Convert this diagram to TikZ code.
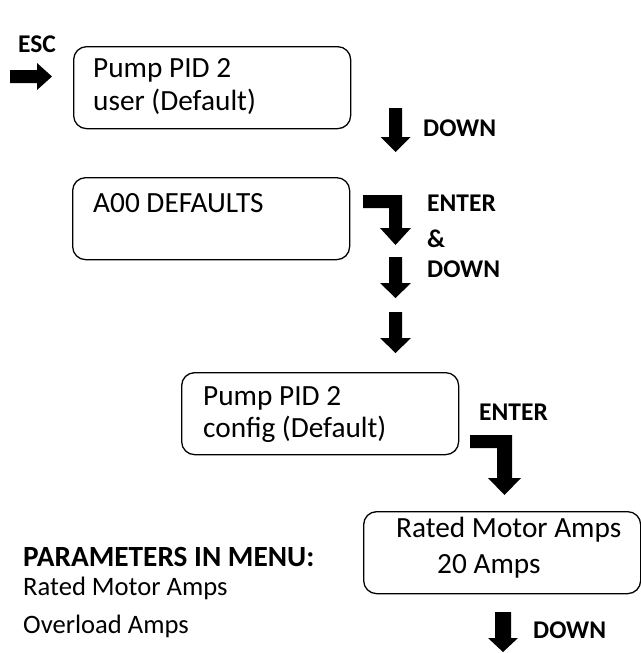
\documentclass[tikz,border=0pt]{standalone}
\usepackage{fontspec}
\setmainfont{Carlito}
\newcommand\myDownArrow[6]{\fill[black] ({#1-#4},#2) -- ({#1+#4},#2) -- ({#1+#4},{#3-#6}) -- ({#1+#5},{#3-#6}) -- (#1,#3) -- ({#1-#5},{#3-#6}) -- ({#1-#4},{#3-#6}) -- cycle;}
\tikzset{
  box/.style={draw, rounded corners=13pt, line width=1.3pt, minimum width=277pt, minimum height=82pt, inner sep=0pt, anchor=north west},
  boxtxt/.style={anchor=base west, inner sep=0pt, font=\fontsize{29.3}{34}\selectfont},
  listtxt/.style={anchor=base west, inner sep=0pt, font=\fontsize{26.6}{31}\selectfont},
  lbl/.style={anchor=base west, inner sep=0pt, font=\bfseries\fontsize{25.5}{30}\selectfont},
  hdr/.style={anchor=base west, inner sep=0pt, font=\bfseries\fontsize{29.3}{34}\selectfont},
}
\begin{document}
\begin{tikzpicture}[x=1pt, y=-1pt]
\useasboundingbox (0,0) rectangle (640,653);
% boxes
\node[box] (b1) at (73,46) {};
\node[box] (b2) at (72,177) {};
\node[box] (b3) at (181,372) {};
\node[box] (b4) at (363,511) {};
% box texts
\node[boxtxt] (t1a) at (93,77) {Pump PID 2};
\node[boxtxt] (t1b) at (93,110) {user (Default)};
\node[boxtxt] (t2a) at (93,212) {A00 DEFAULTS};
\node[boxtxt] (t3a) at (203,405) {Pump PID 2};
\node[boxtxt] (t3b) at (203,437) {config (Default)};
\node[boxtxt] (t4a) at (396,537) {Rated Motor Amps};
\node[boxtxt] (t4b) at (437,573) {20 Amps};
% labels
\node[lbl] (lesc) at (18,52) {ESC};
\node[lbl] (ldown1) at (423,136) {DOWN};
\node[lbl] (lenter1) at (427,211) {ENTER};
\node[lbl] (lamp) at (427,247) {\&};
\node[lbl] (ldown2) at (427,277) {DOWN};
\node[lbl] (lenter2) at (479,420) {ENTER};
\node[lbl] (ldown3) at (533,638) {DOWN};
% parameter list
\node[hdr] (phdr) at (23,566) {PARAMETERS IN MENU:};
\node[listtxt] (p1) at (23,595) {Rated Motor Amps};
\node[listtxt] (p2) at (23,633) {Overload Amps};
% block arrows
\fill[black] (10,70) -- (37,70) -- (37,63) -- (52,76.5) -- (37,90) -- (37,83) -- (10,83) -- cycle;
\myDownArrow{395.5}{108}{152}{6.5}{15}{15}
\fill[black] (363,195) -- (402,195) -- (402,228) -- (411,228) -- (395.5,245) -- (380,228) -- (389,228) -- (389,208) -- (363,208) -- cycle;
\myDownArrow{395.5}{257}{298}{6.5}{15.5}{15}
\myDownArrow{395.5}{312}{353}{6.5}{15.5}{15}
\fill[black] (470,435) -- (512,435) -- (512,478) -- (521,478) -- (504.5,495) -- (488,478) -- (497,478) -- (497,448) -- (470,448) -- cycle;
\myDownArrow{503}{612}{652}{8}{15}{14}
\end{tikzpicture}
\end{document}
